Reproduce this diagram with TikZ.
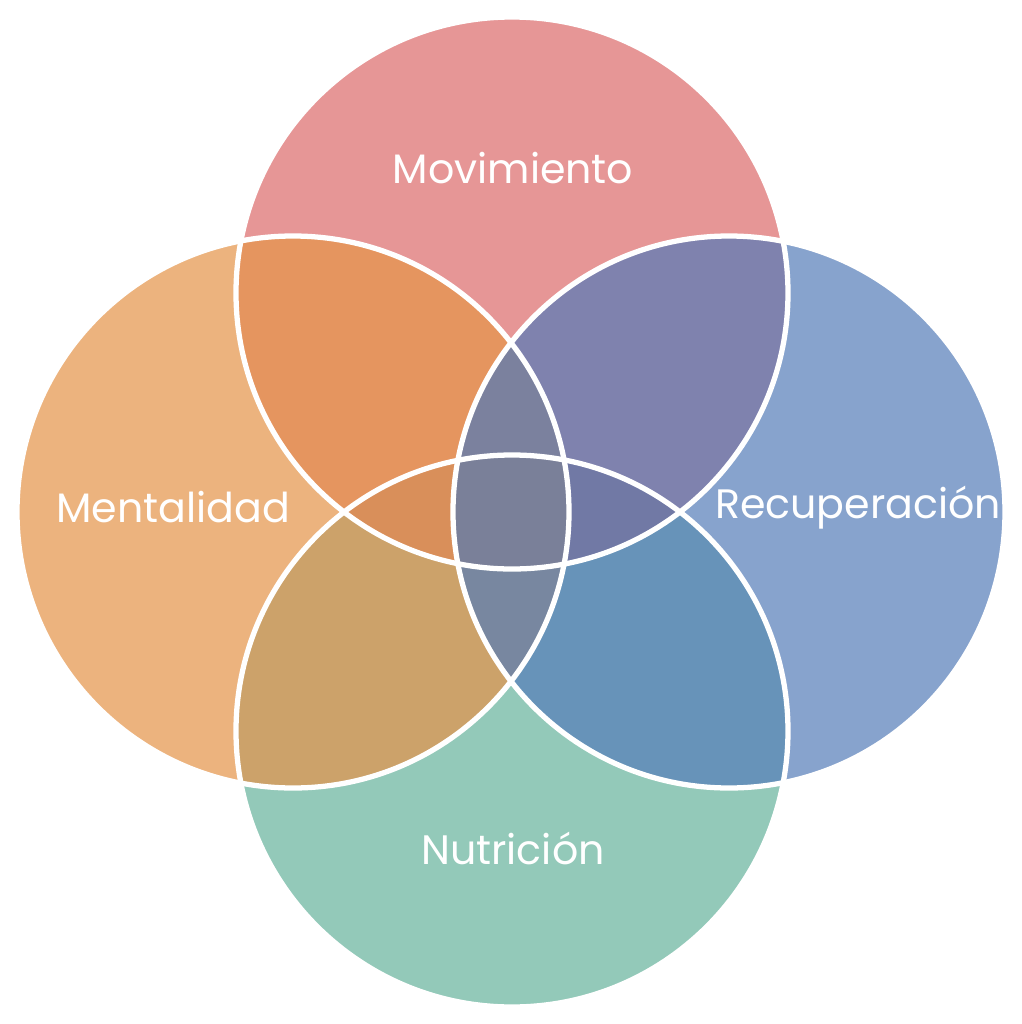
\documentclass[tikz,border=0pt]{standalone}
\usepackage{fontspec}
\setmainfont{Poppins}

\definecolor{movcol}{HTML}{E69696}
\definecolor{mencol}{HTML}{ECB37E}
\definecolor{reccol}{HTML}{87A3CD}
\definecolor{nutcol}{HTML}{93C9B9}
\definecolor{movmen}{HTML}{E5955F}
\definecolor{movrec}{HTML}{7F82AE}
\definecolor{mennut}{HTML}{CCA26A}
\definecolor{recnut}{HTML}{6793B9}
\definecolor{lrtop}{HTML}{7B819E}
\definecolor{lrbot}{HTML}{7887A0}
\definecolor{tbleft}{HTML}{D98F5A}
\definecolor{tbright}{HTML}{7179A5}
\definecolor{allfour}{HTML}{7A8099}

\begin{document}
\begin{tikzpicture}[
        ring/.style={
            draw=white,
            line width=1.5pt
        },
        label/.style={
            text=white,
            font=\fontsize{11.7}{13}\selectfont
        }
    ]

        \useasboundingbox (0,0) rectangle (10.22,-10.24);
        \def\rad{2.76}

        \coordinate (mov) at (5.12,-2.93);
        \coordinate (men) at (2.93,-5.12);
        \coordinate (rec) at (7.29,-5.12);
        \coordinate (nut) at (5.12,-7.31);

        % base circles
        \fill[movcol] (mov) circle (\rad);
        \fill[mencol] (men) circle (\rad);
        \fill[reccol] (rec) circle (\rad);
        \fill[nutcol] (nut) circle (\rad);

        % two-way overlaps
        \begin{scope}
            \clip (mov) circle (\rad);
            \fill[movmen] (men) circle (\rad);
            \fill[movrec] (rec) circle (\rad);
        \end{scope}
        \begin{scope}
            \clip (nut) circle (\rad);
            \fill[mennut] (men) circle (\rad);
            \fill[recnut] (rec) circle (\rad);
        \end{scope}

        % three-way overlaps
        \begin{scope}
            \clip (men) circle (\rad);
            \clip (rec) circle (\rad);
            \fill[lrtop] (mov) circle (\rad);
            \fill[lrbot] (nut) circle (\rad);
        \end{scope}
        \begin{scope}
            \clip (mov) circle (\rad);
            \clip (nut) circle (\rad);
            \fill[tbleft] (men) circle (\rad);
            \fill[tbright] (rec) circle (\rad);
        \end{scope}

        % centre
        \begin{scope}
            \clip (mov) circle (\rad);
            \clip (nut) circle (\rad);
            \clip (men) circle (\rad);
            \fill[allfour] (rec) circle (\rad);
        \end{scope}

        \foreach \c in {mov,men,rec,nut} {
            \draw[ring] (\c) circle (\rad);
        }

        \node[label] (movtext) at (5.13,-1.68) {Movimiento};
        \node[label] (mentext) at (1.73,-5.07) {Mentalidad};
        \node[label] (rectext) at (8.58,-5.08) {Recuperación};
        \node[label] (nuttext) at (5.13,-8.48) {Nutrición};

    \end{tikzpicture}
\end{document}
